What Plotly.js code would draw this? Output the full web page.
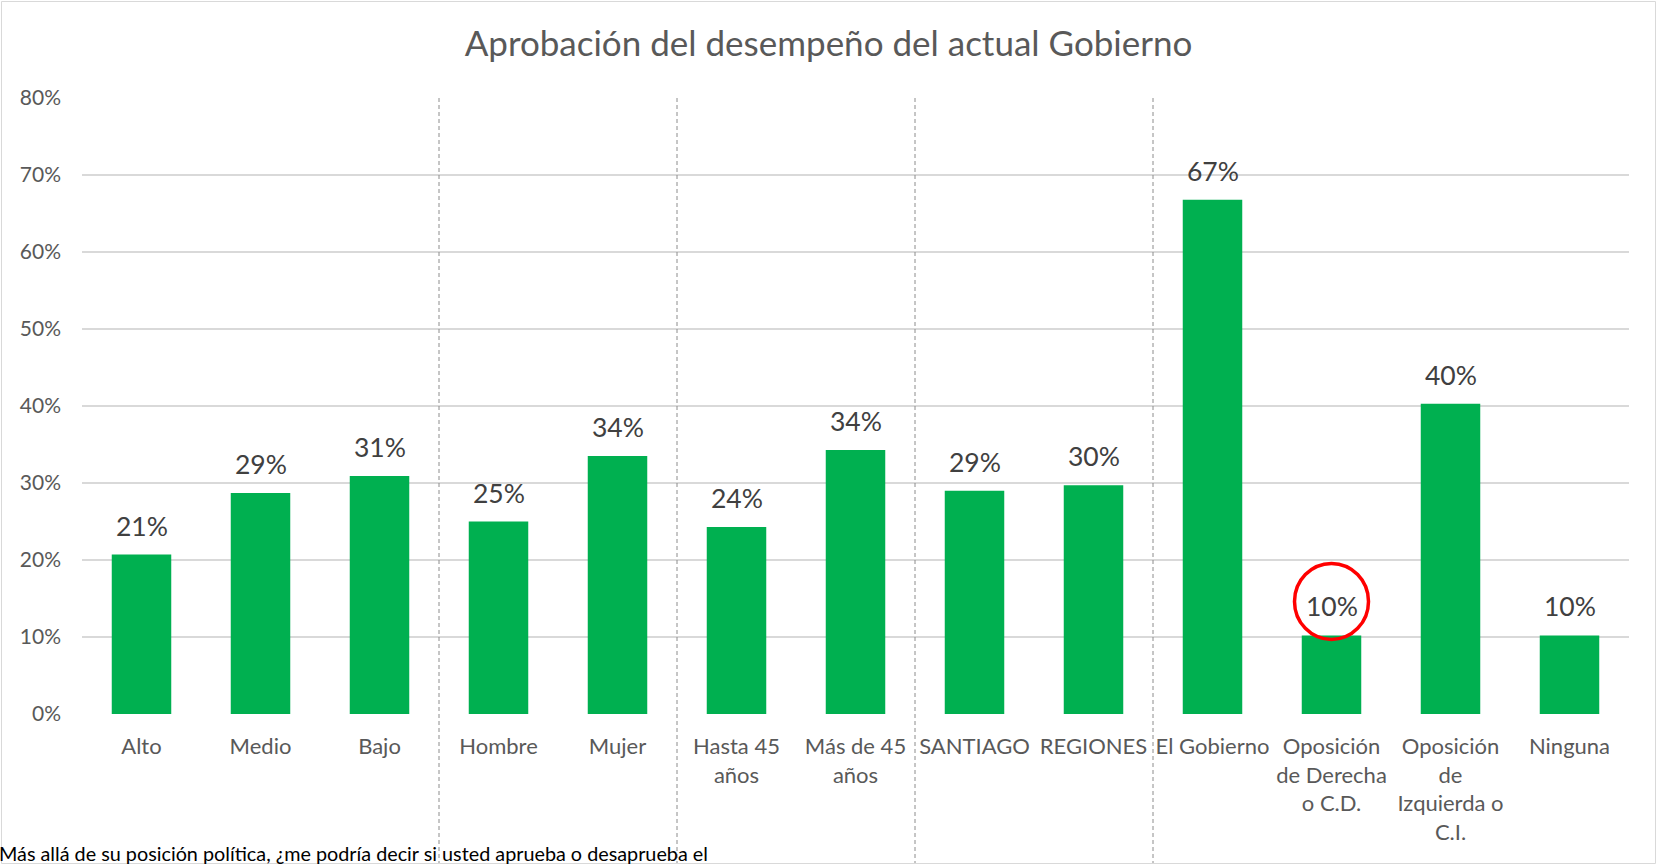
<!DOCTYPE html>
<html>
<head>
<meta charset="utf-8">
<script src="https://cdn.plot.ly/plotly-3.0.1.min.js"></script>
<style>html,body{margin:0;padding:0;background:#fff;overflow:hidden}#chart{width:1657px;height:865px}</style>
</head>
<body>
<div id="chart"></div>
<script>
const categories = ["Alto","Medio","Bajo","Hombre","Mujer","Hasta 45<br>años","Más de 45<br>años","SANTIAGO","REGIONES","El Gobierno","Oposición<br>de Derecha<br>o C.D.","Oposición<br>de<br>Izquierda o<br>C.I.","Ninguna"];
const values = [0.207,0.287,0.309,0.250,0.335,0.243,0.343,0.290,0.297,0.668,0.102,0.403,0.102];
const dividerPositions = [2.5,4.5,6.5,8.5];
const highlightIndex = 10;
const titleText = "Aprobación del desempeño del actual Gobierno";
const footnote = "Más allá de su posición política, ¿me podría decir si usted aprueba o desaprueba el";

const W = 1657, H = 865;
const mL = 82, mR = 28, mT = 98, mB = 151;
const plotW = W - mL - mR, plotH = H - mT - mB;
const FONT = "Lato, 'Open Sans', sans-serif";

const shapes = dividerPositions.map(p => ({
  type: "line", xref: "x", yref: "paper", x0: p, x1: p, y0: 1, y1: -(mB - 2) / plotH,
  line: {color: "#8c8c8c", width: 1, dash: "4px,3px"}
}));
shapes.push({
  type: "circle", xref: "x", yref: "y", xsizemode: "pixel", ysizemode: "pixel",
  xanchor: highlightIndex, yanchor: values[highlightIndex],
  x0: -37, x1: 37, y0: -4, y1: 72,
  line: {color: "#ff0000", width: 3.5}
});
shapes.push({
  type: "rect", xref: "paper", yref: "paper",
  x0: (1.5 - mL) / plotW, x1: (W - 1.5 - mL) / plotW,
  y0: -(mB - 1.5) / plotH, y1: 1 + (mT - 1.5) / plotH,
  line: {color: "#d9d9d9", width: 1}
});

const annotations = values.map((v, i) => ({
  x: i, y: v, xref: "x", yref: "y", text: Math.round(v * 100) + "%",
  showarrow: false, yanchor: "middle", yshift: 29,
  font: {family: FONT, size: 26.5, color: "#404040"}
}));
annotations.push({
  xref: "paper", yref: "paper", x: (-3 - mL) / plotW, xanchor: "left",
  y: -(mB - 12) / plotH, yanchor: "middle", text: footnote, showarrow: false,
  font: {family: FONT, size: 19.8, color: "#000000"}
});

const data = [{
  type: "bar", x: categories, y: values,
  marker: {color: "#00b050"}, hoverinfo: "skip"
}];

const layout = {
  width: W, height: H,
  margin: {l: mL, r: mR, t: mT, b: mB},
  paper_bgcolor: "#ffffff", plot_bgcolor: "#ffffff",
  bargap: 0.5,
  showlegend: false,
  title: {text: titleText, x: 0.5, xref: "container", xanchor: "center", y: 1 - 44 / H, yanchor: "middle",
    font: {family: FONT, size: 35, color: "#595959"}},
  xaxis: {type: "category", showgrid: false, zeroline: false, showline: false,
    ticks: "", ticklabelstandoff: 17, tickangle: 0,
    tickfont: {family: FONT, size: 22, color: "#595959"}},
  yaxis: {range: [0, 0.8], dtick: 0.1, tickformat: ".0%", showgrid: true,
    gridcolor: "#d9d9d9", gridwidth: 1.5, zeroline: false, showline: false, ticks: "",
    ticklabelstandoff: 20,
    tickfont: {family: FONT, size: 21, color: "#595959"}},
  shapes: shapes,
  annotations: annotations
};

Plotly.newPlot("chart", data, layout, {displayModeBar: false, staticPlot: true});
</script>
</body>
</html>
